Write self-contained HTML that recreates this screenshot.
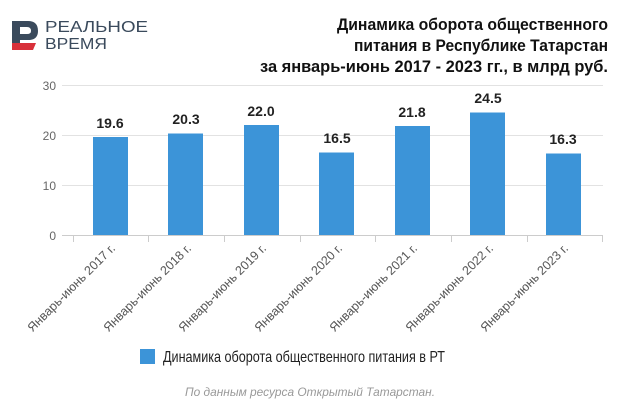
<!DOCTYPE html>
<html><head><meta charset="utf-8"><style>
html,body{margin:0;padding:0;background:#fff;}
svg{display:block;font-family:"Liberation Sans","DejaVu Sans",sans-serif;}
</style></head><body>
<svg width="620" height="411" viewBox="0 0 620 411" xmlns="http://www.w3.org/2000/svg">
<path d="M12 21 H28 Q38 21 38 31 Q38 39 30 40 L30 40 H20 V50 H12 Z" fill="#3a4a5c"/>
<path d="M20 27 H27 Q31 27 31 31 Q31 34 27 34 H20 Z" fill="#fff"/>
<path d="M12 43 H36 L33 50 H12 Z" fill="#d8303a"/>
<text x="45" y="32" font-size="16" fill="#3a4a5c" textLength="103" lengthAdjust="spacingAndGlyphs">РЕАЛЬНОЕ</text>
<text x="45" y="49" font-size="16" fill="#3a4a5c" textLength="62" lengthAdjust="spacingAndGlyphs">ВРЕМЯ</text>
<g font-weight="bold" font-size="17" fill="#111" text-anchor="end">
<text x="608" y="30" textLength="271" lengthAdjust="spacingAndGlyphs">Динамика оборота общественного</text>
<text x="608" y="51" textLength="254" lengthAdjust="spacingAndGlyphs">питания в Республике Татарстан</text>
<text x="608" y="72" textLength="348" lengthAdjust="spacingAndGlyphs">за январь-июнь 2017 - 2023 гг., в млрд руб.</text>
</g>
<g stroke="#e2e2e2" stroke-width="1">
<line x1="62" y1="85.5" x2="603" y2="85.5"/>
<line x1="62" y1="135.5" x2="603" y2="135.5"/>
<line x1="62" y1="185.5" x2="603" y2="185.5"/>
</g>
<line x1="62" y1="235.5" x2="603" y2="235.5" stroke="#ccc"/>
<g stroke="#ccc">
<line x1="73.5" y1="235" x2="73.5" y2="242"/><line x1="148.5" y1="235" x2="148.5" y2="242"/>
<line x1="224.5" y1="235" x2="224.5" y2="242"/><line x1="300.5" y1="235" x2="300.5" y2="242"/>
<line x1="375.5" y1="235" x2="375.5" y2="242"/><line x1="451.5" y1="235" x2="451.5" y2="242"/>
<line x1="527.5" y1="235" x2="527.5" y2="242"/><line x1="602.5" y1="235" x2="602.5" y2="242"/>
</g>
<g font-size="12" fill="#666" text-anchor="end">
<text x="56" y="90">30</text><text x="56" y="140">20</text><text x="56" y="190">10</text><text x="56" y="240">0</text>
</g>
<g fill="#3c94d8">
<rect x="93" y="137" width="35" height="98"/>
<rect x="168" y="133.5" width="35" height="101.5"/>
<rect x="244" y="125" width="35" height="110"/>
<rect x="319" y="152.5" width="35" height="82.5"/>
<rect x="395" y="126" width="35" height="109"/>
<rect x="470" y="112.5" width="35" height="122.5"/>
<rect x="546" y="153.5" width="35" height="81.5"/>
</g>
<g font-size="14" font-weight="bold" fill="#222" text-anchor="middle">
<text x="110" y="128">19.6</text><text x="186" y="124">20.3</text><text x="261" y="116">22.0</text>
<text x="337" y="143">16.5</text><text x="412" y="117">21.8</text><text x="488" y="103">24.5</text>
<text x="563" y="144">16.3</text>
</g>
<g font-size="12.5" fill="#555" text-anchor="end">
<text transform="translate(116,249) rotate(-45)">Январь-июнь 2017 г.</text>
<text transform="translate(192,249) rotate(-45)">Январь-июнь 2018 г.</text>
<text transform="translate(267,249) rotate(-45)">Январь-июнь 2019 г.</text>
<text transform="translate(343,249) rotate(-45)">Январь-июнь 2020 г.</text>
<text transform="translate(418,249) rotate(-45)">Январь-июнь 2021 г.</text>
<text transform="translate(494,249) rotate(-45)">Январь-июнь 2022 г.</text>
<text transform="translate(569,249) rotate(-45)">Январь-июнь 2023 г.</text>
</g>
<rect x="140" y="349" width="15" height="15" fill="#3c94d8"/>
<text x="163" y="362" font-size="16" fill="#222" textLength="282" lengthAdjust="spacingAndGlyphs">Динамика оборота общественного питания в РТ</text>
<text x="310" y="396" font-size="12" font-style="italic" fill="#999" text-anchor="middle" textLength="250" lengthAdjust="spacingAndGlyphs">По данным ресурса Открытый Татарстан.</text>
</svg>
</body></html>
